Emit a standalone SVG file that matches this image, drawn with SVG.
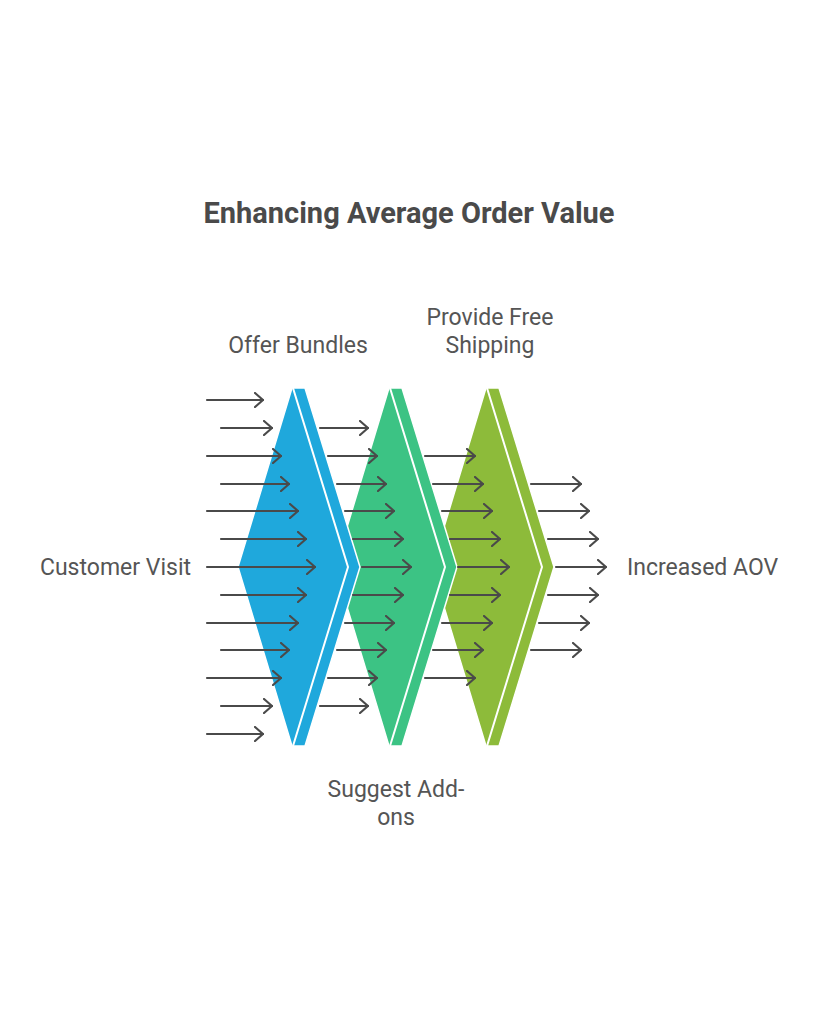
<svg xmlns="http://www.w3.org/2000/svg" width="819" height="1024" viewBox="0 0 819 1024">
<style>
.title{font-family:Roboto,"Liberation Sans",sans-serif;font-weight:bold;font-size:29px;fill:#4a4a4a}
.lbl{font-family:Roboto,"Liberation Sans",sans-serif;font-size:23px;fill:#555555}
.shape{stroke:#ffffff;stroke-width:1.5;stroke-linejoin:round}
.gap{fill:none;stroke:#ffffff;stroke-width:2}
.arr{fill:none;stroke:#4a4a4a;stroke-width:2.2;stroke-linecap:round;stroke-linejoin:round}
</style>
<defs>
<marker id="ah" viewBox="0 0 10 16" refX="9" refY="8" markerWidth="10" markerHeight="16" markerUnits="userSpaceOnUse" orient="auto">
<path d="M1,1 L9,8 L1,15" fill="none" stroke="#4a4a4a" stroke-width="2.2" stroke-linecap="round" stroke-linejoin="round"/>
</marker>
</defs>
<rect width="819" height="1024" fill="#ffffff"/>
<text class="title" x="409" y="223" text-anchor="middle">Enhancing Average Order Value</text>

<g id="stage3">
<path class="shape" fill="#8DBB3A" d="M486,388 L499,388 L554,567 L499,746 L486,746 L432,567 Z"/>
<path class="gap" d="M487,388 L542,567 L487,746"/>
</g>
<g id="stage2">
<path class="shape" fill="#3CC384" d="M389,388 L402,388 L457,567 L402,746 L389,746 L335,567 Z"/>
<path class="gap" d="M390,388 L445,567 L390,746"/>
</g>
<g id="stage1">
<path class="shape" fill="#1FA8DC" d="M292,388 L305,388 L360,567 L305,746 L292,746 L238,567 Z"/>
<path class="gap" d="M293,388 L348,567 L293,746"/>
</g>

<g id="connectors">
<!-- column 1 -->
<line class="arr" marker-end="url(#ah)" x1="207" y1="400" x2="263" y2="400"/>
<line class="arr" marker-end="url(#ah)" x1="221" y1="428" x2="272" y2="428"/>
<line class="arr" marker-end="url(#ah)" x1="207" y1="456" x2="281" y2="456"/>
<line class="arr" marker-end="url(#ah)" x1="221" y1="484" x2="289" y2="484"/>
<line class="arr" marker-end="url(#ah)" x1="207" y1="511" x2="298" y2="511"/>
<line class="arr" marker-end="url(#ah)" x1="221" y1="539" x2="306" y2="539"/>
<line class="arr" marker-end="url(#ah)" x1="207" y1="567" x2="315" y2="567"/>
<line class="arr" marker-end="url(#ah)" x1="221" y1="595" x2="306" y2="595"/>
<line class="arr" marker-end="url(#ah)" x1="207" y1="623" x2="298" y2="623"/>
<line class="arr" marker-end="url(#ah)" x1="221" y1="650" x2="289" y2="650"/>
<line class="arr" marker-end="url(#ah)" x1="207" y1="678" x2="281" y2="678"/>
<line class="arr" marker-end="url(#ah)" x1="221" y1="706" x2="272" y2="706"/>
<line class="arr" marker-end="url(#ah)" x1="207" y1="734" x2="263" y2="734"/>
<!-- column 2 -->
<line class="arr" marker-end="url(#ah)" x1="320" y1="428" x2="368" y2="428"/>
<line class="arr" marker-end="url(#ah)" x1="328" y1="456" x2="377" y2="456"/>
<line class="arr" marker-end="url(#ah)" x1="337" y1="484" x2="386" y2="484"/>
<line class="arr" marker-end="url(#ah)" x1="345" y1="511" x2="394" y2="511"/>
<line class="arr" marker-end="url(#ah)" x1="353" y1="539" x2="403" y2="539"/>
<line class="arr" marker-end="url(#ah)" x1="362" y1="567" x2="411" y2="567"/>
<line class="arr" marker-end="url(#ah)" x1="353" y1="595" x2="403" y2="595"/>
<line class="arr" marker-end="url(#ah)" x1="345" y1="623" x2="394" y2="623"/>
<line class="arr" marker-end="url(#ah)" x1="337" y1="650" x2="386" y2="650"/>
<line class="arr" marker-end="url(#ah)" x1="328" y1="678" x2="377" y2="678"/>
<line class="arr" marker-end="url(#ah)" x1="320" y1="706" x2="368" y2="706"/>
<!-- column 3 -->
<line class="arr" marker-end="url(#ah)" x1="425" y1="456" x2="475" y2="456"/>
<line class="arr" marker-end="url(#ah)" x1="433" y1="484" x2="483" y2="484"/>
<line class="arr" marker-end="url(#ah)" x1="442" y1="511" x2="492" y2="511"/>
<line class="arr" marker-end="url(#ah)" x1="450" y1="539" x2="500" y2="539"/>
<line class="arr" marker-end="url(#ah)" x1="458" y1="567" x2="509" y2="567"/>
<line class="arr" marker-end="url(#ah)" x1="450" y1="595" x2="500" y2="595"/>
<line class="arr" marker-end="url(#ah)" x1="442" y1="623" x2="492" y2="623"/>
<line class="arr" marker-end="url(#ah)" x1="433" y1="650" x2="483" y2="650"/>
<line class="arr" marker-end="url(#ah)" x1="425" y1="678" x2="475" y2="678"/>
<!-- column 4 -->
<line class="arr" marker-end="url(#ah)" x1="531" y1="484" x2="581" y2="484"/>
<line class="arr" marker-end="url(#ah)" x1="539" y1="511" x2="589" y2="511"/>
<line class="arr" marker-end="url(#ah)" x1="548" y1="539" x2="598" y2="539"/>
<line class="arr" marker-end="url(#ah)" x1="556" y1="567" x2="606" y2="567"/>
<line class="arr" marker-end="url(#ah)" x1="548" y1="595" x2="598" y2="595"/>
<line class="arr" marker-end="url(#ah)" x1="539" y1="623" x2="589" y2="623"/>
<line class="arr" marker-end="url(#ah)" x1="531" y1="650" x2="581" y2="650"/>
</g>

<g id="labels">
<text class="lbl" x="191" y="575" text-anchor="end">Customer Visit</text>
<text class="lbl" x="627" y="575">Increased AOV</text>
<text class="lbl" x="298" y="353" text-anchor="middle">Offer Bundles</text>
<text class="lbl" x="490" y="325" text-anchor="middle">Provide Free</text>
<text class="lbl" x="490" y="353" text-anchor="middle">Shipping</text>
<text class="lbl" x="396" y="797" text-anchor="middle">Suggest Add-</text>
<text class="lbl" x="396" y="825" text-anchor="middle">ons</text>
</g>
</svg>
